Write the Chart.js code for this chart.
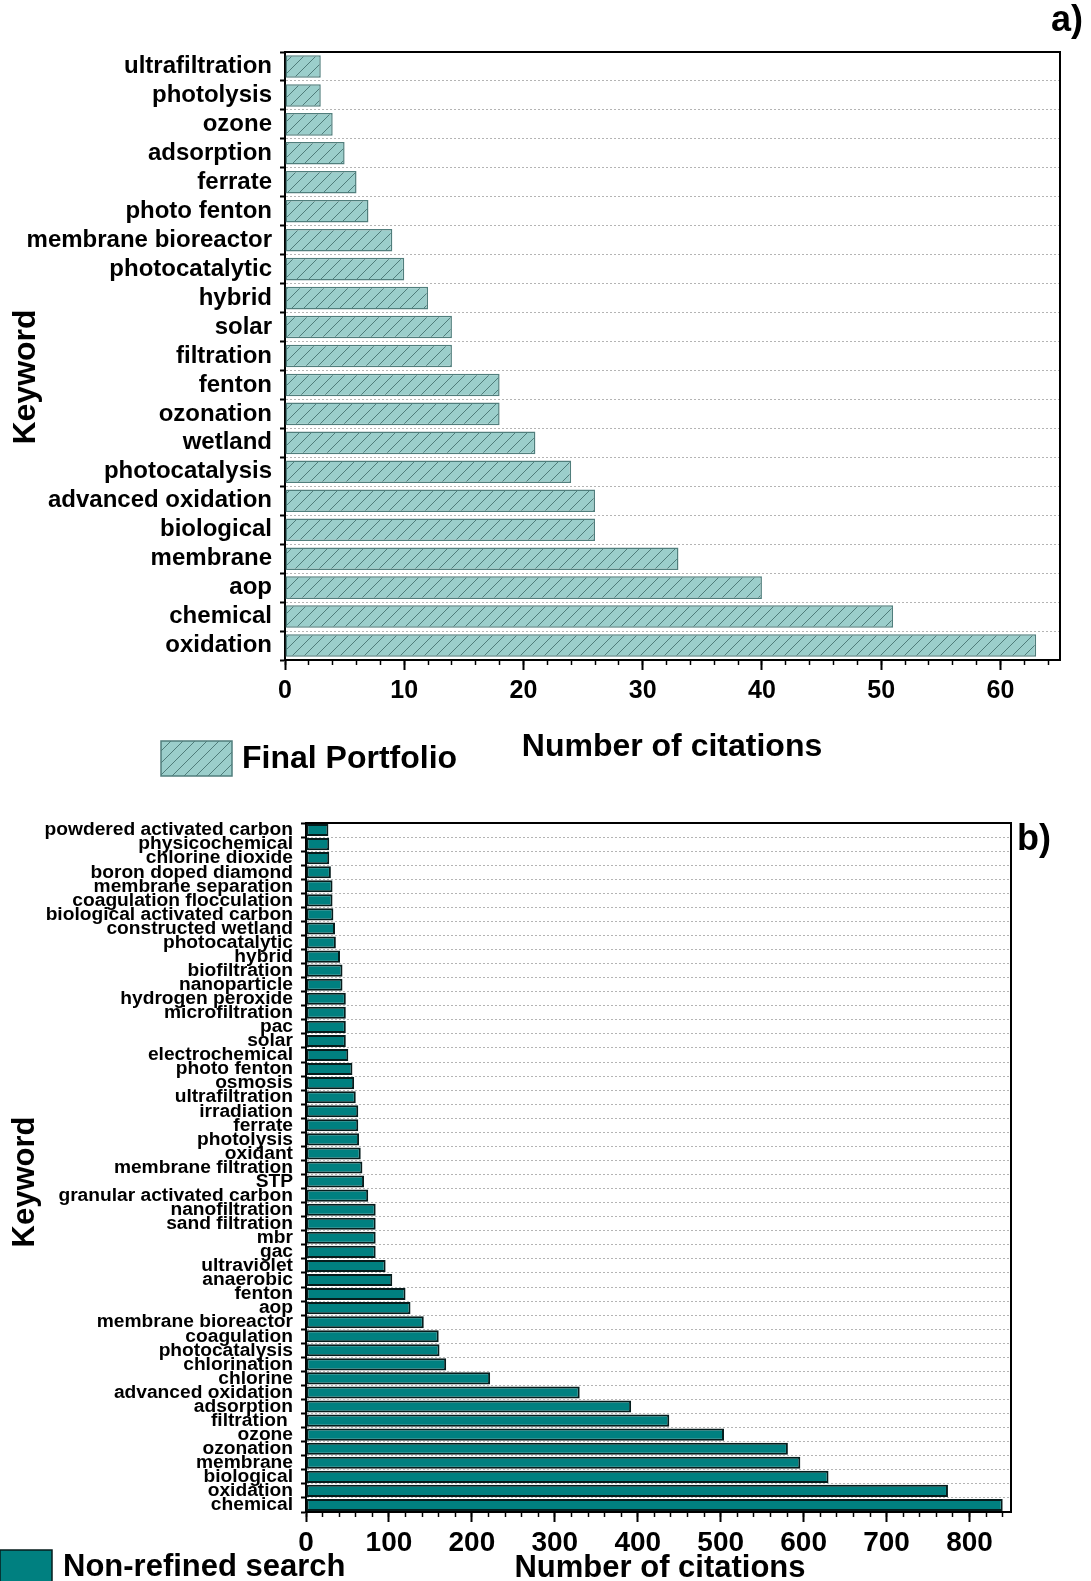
<!DOCTYPE html>
<html>
<head>
<meta charset="utf-8">
<script src="https://cdn.jsdelivr.net/npm/chart.js@4.4.1/dist/chart.umd.min.js"></script>
<style>
  html, body { margin: 0; padding: 0; background: #fff; }
  #wrap { position: relative; width: 1091px; height: 1581px; overflow: hidden; }
  canvas { position: absolute; left: 0; }
  #topChart { top: 0; }
  #bottomChart { top: 790px; }
</style>
</head>
<body>
<div id="wrap">
  <canvas id="topChart" width="1091" height="790"></canvas>
  <canvas id="bottomChart" width="1091" height="791"></canvas>
</div>
<script>
// a) Final Portfolio
const topKeywords = [
  'ultrafiltration', 'photolysis', 'ozone', 'adsorption', 'ferrate', 'photo fenton',
  'membrane bioreactor', 'photocatalytic', 'hybrid', 'solar', 'filtration', 'fenton',
  'ozonation', 'wetland', 'photocatalysis', 'advanced oxidation', 'biological',
  'membrane', 'aop', 'chemical', 'oxidation'
];
const topCitations = [3, 3, 4, 5, 6, 7, 9, 10, 12, 14, 14, 18, 18, 21, 24, 26, 26, 33, 40, 51, 63];
const topAxis = { max: 65, major: 10, minor: 2 };

// b) Non-refined search
const bottomKeywords = [
  'powdered activated carbon', 'physicochemical', 'chlorine dioxide', 'boron doped diamond',
  'membrane separation', 'coagulation flocculation', 'biological activated carbon',
  'constructed wetland', 'photocatalytic', 'hybrid', 'biofiltration', 'nanoparticle',
  'hydrogen peroxide', 'microfiltration', 'pac', 'solar', 'electrochemical', 'photo fenton',
  'osmosis', 'ultrafiltration', 'irradiation', 'ferrate', 'photolysis', 'oxidant',
  'membrane filtration', 'STP', 'granular activated carbon', 'nanofiltration',
  'sand filtration', 'mbr', 'gac', 'ultraviolet', 'anaerobic', 'fenton', 'aop',
  'membrane bioreactor', 'coagulation', 'photocatalysis', 'chlorination', 'chlorine',
  'advanced oxidation', 'adsorption', 'filtration ', 'ozone', 'ozonation', 'membrane',
  'biological', 'oxidation', 'chemical'
];
const bottomCitations = [
  27, 28, 28, 30, 32, 32, 33, 35, 36, 41, 44, 44, 48, 48, 48, 48, 51, 56,
  58, 60, 63, 63, 64, 66, 68, 70, 75, 84, 84, 84, 84, 96, 104, 120, 126,
  142, 160, 161, 169, 222, 330, 392, 438, 504, 581, 596, 630, 774, 840
];
const bottomAxis = { max: 850, major: 100, minor: 20 };

const FONT = "'Liberation Sans', Arial, Helvetica, sans-serif";

// diagonal hatch fill like the original
function makeHatch(fill, line, step) {
    const c = document.createElement('canvas');
    c.width = step; c.height = step;
    const g = c.getContext('2d');
    g.fillStyle = fill;
    g.fillRect(0, 0, step, step);
    g.strokeStyle = line;
    g.lineWidth = 1;
    g.beginPath();
    g.moveTo(0, step); g.lineTo(step, 0);
    g.moveTo(-2, 2); g.lineTo(2, -2);
    g.moveTo(step - 2, step + 2); g.lineTo(step + 2, step - 2);
    g.stroke();
    return g.createPattern(c, 'repeat');
}

// frame, axis titles, legend and panel letter
const decorPlugin = {
    id: 'decor',
    afterDatasetsDraw(chart, args, opts) {
        const ctx = chart.ctx;
        const a = chart.chartArea;
        ctx.save();
        ctx.strokeStyle = '#000';
        ctx.lineWidth = 2;
        ctx.beginPath();
        ctx.moveTo(a.left, a.top);
        ctx.lineTo(a.right, a.top);
        ctx.lineTo(a.right, a.bottom);
        ctx.stroke();
        ctx.restore();
    },
    afterDraw(chart, args, opts) {
        const ctx = chart.ctx;
        const ds = chart.data.datasets[0];
        ctx.save();
        ctx.fillStyle = '#000';
        ctx.textBaseline = 'middle';

        // y title
        ctx.save();
        ctx.translate(opts.yTitle.x, opts.yTitle.y);
        ctx.rotate(-Math.PI / 2);
        ctx.textAlign = 'center';
        ctx.font = 'bold ' + opts.yTitle.size + 'px ' + FONT;
        ctx.fillText(opts.yTitle.text, 0, 0);
        ctx.restore();

        // x title
        ctx.textAlign = 'center';
        ctx.font = 'bold ' + opts.xTitle.size + 'px ' + FONT;
        ctx.fillText(opts.xTitle.text, opts.xTitle.x, opts.xTitle.y);

        // legend
        const b = opts.legend.box;
        ctx.fillStyle = ds.backgroundColor;
        ctx.fillRect(b[0], b[1], b[2], b[3]);
        ctx.strokeStyle = ds.borderColor;
        ctx.lineWidth = 1.5;
        ctx.strokeRect(b[0], b[1], b[2], b[3]);
        ctx.fillStyle = '#000';
        ctx.textAlign = 'left';
        ctx.font = 'bold ' + opts.legend.size + 'px ' + FONT;
        ctx.fillText(ds.label, opts.legend.x, opts.legend.y);

        // panel letter
        ctx.font = 'bold ' + opts.letter.size + 'px ' + FONT;
        ctx.fillText(opts.letter.text, opts.letter.x, opts.letter.y);
        ctx.restore();
    }
};

function buildChart(canvasId, cfg) {
    const ctx = document.getElementById(canvasId).getContext('2d');
    return new Chart(ctx, {
        type: 'bar',
        data: {
            labels: cfg.labels,
            datasets: [{
                label: cfg.seriesName,
                data: cfg.values,
                xAxisID: 'x',
                yAxisID: 'y',
                backgroundColor: cfg.fill,
                borderColor: cfg.border,
                borderWidth: cfg.borderWidth,
                borderSkipped: false,
                barPercentage: cfg.barPct,
                categoryPercentage: 1
            }]
        },
        options: {
            indexAxis: 'y',
            responsive: false,
            animation: false,
            devicePixelRatio: 1,
            layout: { padding: cfg.padding },
            scales: {
                y: {
                    type: 'category',
                    offset: true,
                    ticks: {
                        autoSkip: false,
                        color: '#000',
                        padding: 8,
                        font: { family: FONT, size: cfg.labelSize, weight: 'bold' }
                    },
                    grid: {
                        offset: true,
                        color: '#b4b4b4',
                        lineWidth: 1,
                        tickLength: 5,
                        tickColor: '#000',
                        tickWidth: 2,
                        tickBorderDash: [10, 0]
                    },
                    // in v4 border.dash is what dashes the grid lines
                    border: { display: true, color: '#000', width: 2, dash: [2, 2] },
                    afterFit(scale) { scale.width = cfg.yWidth; }
                },
                xMinor: {
                    type: 'linear',
                    position: 'bottom',
                    weight: 0,
                    min: 0,
                    max: cfg.axis.max,
                    ticks: { display: false, stepSize: cfg.axis.minor, includeBounds: false },
                    grid: { drawOnChartArea: false, tickLength: 5, tickColor: '#000', tickWidth: 1.5 },
                    border: { display: false },
                    afterFit(scale) { scale.height = 0; }
                },
                x: {
                    type: 'linear',
                    position: 'bottom',
                    weight: 1,
                    min: 0,
                    max: cfg.axis.max,
                    ticks: {
                        stepSize: cfg.axis.major,
                        includeBounds: false,
                        autoSkip: false,
                        maxRotation: 0,
                        color: '#000',
                        padding: cfg.tickPad,
                        font: { family: FONT, size: cfg.tickSize, weight: 'bold' }
                    },
                    grid: { drawOnChartArea: false, tickLength: 10, tickColor: '#000', tickWidth: 2 },
                    border: { display: true, color: '#000', width: 2 },
                    afterFit(scale) { scale.height = cfg.xHeight; }
                }
            },
            plugins: {
                legend: { display: false },
                title: { display: false },
                tooltip: { enabled: false },
                decor: cfg.decor
            }
        },
        plugins: [decorPlugin]
    });
}

buildChart('topChart', {
    labels: topKeywords,
    values: topCitations,
    seriesName: 'Final Portfolio',
    fill: makeHatch('#9bcecb', '#4f7c7a', 12),
    border: '#507e7c',
    borderWidth: 1.5,
    barPct: 0.78,
    axis: topAxis,
    padding: { top: 52, right: 31, left: 0, bottom: 0 },
    yWidth: 285,
    xHeight: 130,
    labelSize: 24,
    tickSize: 25,
    tickPad: 6,
    decor: {
        yTitle: { text: 'Keyword', x: 26, y: 377, size: 32 },
        xTitle: { text: 'Number of citations', x: 672, y: 747, size: 32 },
        legend: { box: [161, 741, 71, 35], x: 242, y: 759, size: 32 },
        letter: { text: 'a)', x: 1051, y: 21, size: 36 }
    }
});

buildChart('bottomChart', {
    labels: bottomKeywords,
    values: bottomCitations,
    seriesName: 'Non-refined search',
    fill: '#008080',
    border: '#061c1c',
    borderWidth: 2,
    barPct: 0.86,
    axis: bottomAxis,
    padding: { top: 33, right: 80, left: 0, bottom: 0 },
    yWidth: 306,
    xHeight: 69,
    labelSize: 19.2,
    tickSize: 28,
    tickPad: 4,
    decor: {
        yTitle: { text: 'Keyword', x: 25, y: 392, size: 31 },
        xTitle: { text: 'Number of citations', x: 660, y: 778, size: 31 },
        legend: { box: [0, 760, 52, 34], x: 63, y: 777, size: 31 },
        letter: { text: 'b)', x: 1017, y: 50, size: 36 }
    }
});
</script>
</body>
</html>
